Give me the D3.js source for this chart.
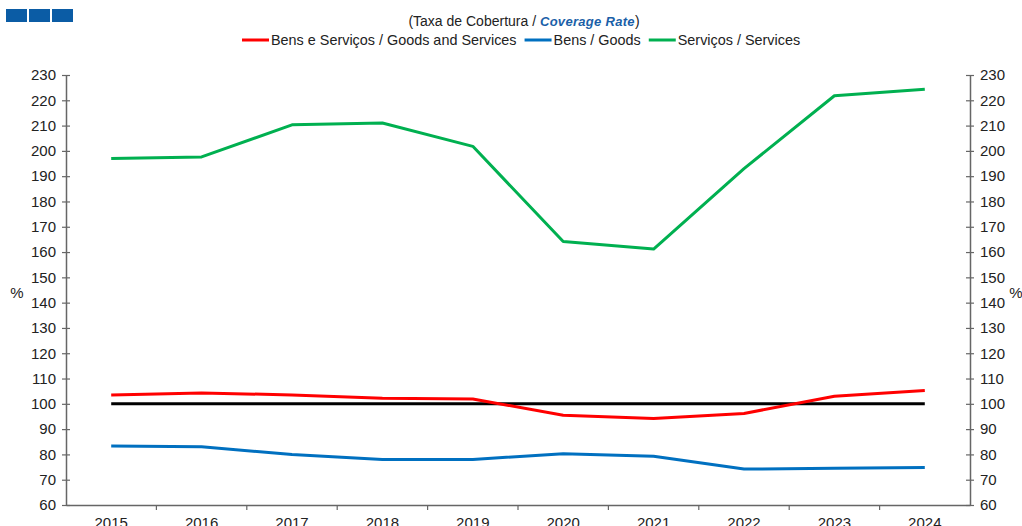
<!DOCTYPE html>
<html>
<head>
<meta charset="utf-8">
<script src="https://cdn.jsdelivr.net/npm/d3@7"></script>
<style>
  body { margin: 0; background: #fff; }
  text { font-family: "Liberation Sans", Arial, sans-serif; }
</style>
</head>
<body>
<div id="frame"></div>
<script>
var years = ["2015","2016","2017","2018","2019","2020","2021","2022","2023","2024"];
var bensServicos = [103.5, 104.3, 103.5, 102.2, 101.9, 95.5, 94.2, 96.2, 103, 105.3];
var bens = [83.3, 83, 80, 78, 78, 80.3, 79.3, 74.2, 74.5, 74.8];
var servicos = [197, 197.6, 210.3, 211, 201.8, 164.2, 161.2, 193, 221.8, 224.4];
var reference = [100, 100, 100, 100, 100, 100, 100, 100, 100, 100];
var yTicks = d3.range(60, 231, 10);

var series = [
  {name: "Bens e Serviços / Goods and Services", values: bensServicos, colour: "#ff0000"},
  {name: "Bens / Goods", values: bens, colour: "#0070c0"},
  {name: "Serviços / Services", values: servicos, colour: "#00b050"}
];

var W = 1022, H = 526;
var mLeft = 66, mRight = 970, mTop = 75, mBottom = 505;

var svg = d3.select('#frame').append('svg').attr('width', W).attr('height', H);

// header squares
[6, 29, 52].forEach(function(x) {
  svg.append("rect").attr("x", x).attr("y", 9).attr("width", 21).attr("height", 13).attr("fill", "#0b5ca5");
});

var x = d3.scaleBand().domain(years).range([mLeft, mRight]);
var y = d3.scaleLinear().domain([60, 230]).range([mBottom, mTop]);

// axes
var axisColour = "#666";
var yl = svg.append("g").attr("transform", "translate(" + mLeft + ",0)")
  .call(d3.axisLeft(y).tickValues(yTicks).tickSize(0).tickPadding(10));
var yr = svg.append("g").attr("transform", "translate(" + mRight + ",0)")
  .call(d3.axisRight(y).tickValues(yTicks).tickSize(0).tickPadding(10));
[yl, yr].forEach(function(g) {
  g.select(".domain").attr("stroke", axisColour).attr("stroke-width", 1.5);
  g.selectAll(".tick text").attr("font-size", "15px").attr("fill", "#222").attr("font-family", "Liberation Sans, Arial, sans-serif");
  g.selectAll(".tick").append("line").attr("x1", -4).attr("x2", 4).attr("stroke", axisColour).attr("stroke-width", 1.2);
});

var xa = svg.append("g").attr("transform", "translate(0," + mBottom + ")")
  .call(d3.axisBottom(x).tickSize(0).tickPadding(12));
xa.select(".domain").attr("stroke", axisColour).attr("stroke-width", 1.5);
xa.selectAll(".tick text").attr("font-size", "15px").attr("fill", "#222").attr("font-family", "Liberation Sans, Arial, sans-serif");
// category boundary ticks
xa.selectAll(".sep").data(years.slice(1)).enter().append("line")
  .attr("x1", function(d) { return x(d); }).attr("x2", function(d) { return x(d); })
  .attr("y1", 0).attr("y2", 5).attr("stroke", axisColour).attr("stroke-width", 1.2);

var line = d3.line()
  .x(function(d, i) { return x(years[i]) + x.bandwidth() / 2; })
  .y(function(d) { return y(d); });

svg.append("path").datum(reference).attr("d", line)
  .attr("fill", "none").attr("stroke", "#000").attr("stroke-width", 3);

series.forEach(function(s) {
  svg.append("path").datum(s.values).attr("d", line)
    .attr("fill", "none").attr("stroke", s.colour).attr("stroke-width", 3)
    .attr("stroke-linejoin", "round");
});

// % labels
svg.append("text").attr("x", 17).attr("y", 298).attr("text-anchor", "middle").attr("font-size", "15px").attr("fill", "#222").text("%");
svg.append("text").attr("x", 1016).attr("y", 298).attr("text-anchor", "middle").attr("font-size", "15px").attr("fill", "#222").text("%");

// title
var t = svg.append("text").attr("x", 524).attr("y", 26).attr("text-anchor", "middle").attr("font-size", "14px").attr("fill", "#222");
t.append("tspan").text("(Taxa de Cobertura / ");
t.append("tspan").attr("font-style", "italic").attr("font-weight", "bold").attr("fill", "#1a5fa8").attr("font-size", "13px").attr("letter-spacing", "0.3px").text("Coverage Rate");
t.append("tspan").text(")");

// legend
var lg = svg.append("g").attr("transform", "translate(242,41)");
var lx = 0;
series.forEach(function(s) {
  lg.append("line").attr("x1", lx).attr("x2", lx + 27).attr("y1", -1).attr("y2", -1)
    .attr("stroke", s.colour).attr("stroke-width", 3);
  var tx = lg.append("text").attr("x", lx + 29).attr("y", 4).attr("font-size", "14.4px").attr("fill", "#222").text(s.name);
  lx += 29 + tx.node().getComputedTextLength() + 8;
});
</script>
</body>
</html>
